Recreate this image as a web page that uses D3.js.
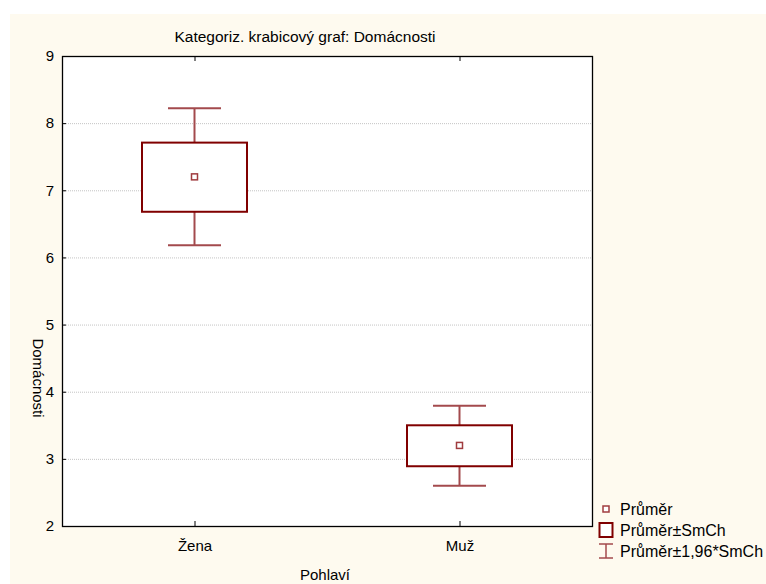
<!DOCTYPE html>
<html lang="cs">
<head>
    <meta charset="UTF-8">
    <title>Kategoriz. krabicový graf: Domácnosti</title>
    <style>
        body {
            margin: 0;
            background: #fff;
            font-family: "Liberation Sans", Arial, sans-serif;
        }
        .grid line {
            stroke: #c4c4c4;
            stroke-dasharray: 1, 1;
        }
        .tick-label {
            font-size: 15px;
            fill: #000;
        }
    </style>
</head>
<body>
    <svg id="chart" width="766" height="584"></svg>

    <script src="https://d3js.org/d3.v7.min.js"></script>
    <script>
        // data
        const categories = ["Žena", "Muž"];
        const means = [7.20, 3.20];
        const boxLow = [6.68, 2.89];     // mean - SE
        const boxHigh = [7.71, 3.50];    // mean + SE
        const whiskLow = [6.18, 2.60];   // mean - 1.96*SE
        const whiskHigh = [8.22, 3.79];  // mean + 1.96*SE
        const yTicks = [2, 3, 4, 5, 6, 7, 8, 9];
        const legendItems = ["Průměr", "Průměr±SmCh", "Průměr±1,96*SmCh"];

        const boxColor = "#800000";
        const whiskColor = "#a34a4d";

        const svg = d3.select("#chart");
        const width = +svg.attr("width");
        const height = +svg.attr("height");
        const margin = { top: 56, right: 174, bottom: 58, left: 62 };
        const plotW = width - margin.left - margin.right;
        const plotH = height - margin.top - margin.bottom;

        // cream background panel
        svg.append("rect")
            .attr("x", 10).attr("y", 14)
            .attr("width", width - 10).attr("height", height - 14)
            .attr("fill", "#fefaef");

        const g = svg.append("g")
            .attr("transform", `translate(${margin.left},${margin.top})`);

        const x = d3.scalePoint().domain(categories).range([0, plotW]).padding(0.5);
        const y = d3.scaleLinear().domain([2, 9]).range([plotH, 0]);

        g.append("rect")
            .attr("width", plotW).attr("height", plotH)
            .attr("fill", "#fff");

        // horizontal dotted grid
        g.append("g").attr("class", "grid")
            .selectAll("line")
            .data(yTicks.filter(d => d > 2 && d < 9))
            .join("line")
            .attr("x1", 0).attr("x2", plotW)
            .attr("y1", d => y(d) + 0.5).attr("y2", d => y(d) + 0.5);

        // y axis labels
        const yAxis = g.append("g")
            .call(d3.axisLeft(y).tickValues(yTicks).tickSize(0).tickPadding(8).tickFormat(d3.format("d")));
        yAxis.select(".domain").remove();
        yAxis.selectAll("text").attr("class", "tick-label")
            .attr("font-family", "Liberation Sans, Arial, sans-serif");

        // y ticks pointing inward
        g.append("g").selectAll("line")
            .data(yTicks)
            .join("line")
            .attr("x1", 0).attr("x2", 4)
            .attr("y1", d => y(d) + 0.5).attr("y2", d => y(d) + 0.5)
            .attr("stroke", "#000");

        // x axis labels
        const xAxis = g.append("g")
            .attr("transform", `translate(0,${plotH})`)
            .call(d3.axisBottom(x).tickSize(0).tickPadding(14));
        xAxis.select(".domain").remove();
        xAxis.selectAll("text").attr("class", "tick-label")
            .attr("font-family", "Liberation Sans, Arial, sans-serif");

        // category ticks top and bottom, pointing inward
        categories.forEach(c => {
            g.append("line")
                .attr("x1", x(c) + 0.5).attr("x2", x(c) + 0.5)
                .attr("y1", 0).attr("y2", 5).attr("stroke", "#000");
            g.append("line")
                .attr("x1", x(c) + 0.5).attr("x2", x(c) + 0.5)
                .attr("y1", plotH).attr("y2", plotH - 5).attr("stroke", "#000");
        });

        // plot frame
        g.append("rect")
            .attr("x", 0.5).attr("y", 0.5)
            .attr("width", plotW).attr("height", plotH)
            .attr("fill", "none")
            .attr("stroke", "#000")
            .attr("stroke-width", 1.3);

        const boxW = 105;
        const capW = 53;

        const groups = g.selectAll(".cat")
            .data(categories)
            .join("g")
            .attr("class", "cat");

        // whiskers
        groups.append("line")
            .attr("x1", d => x(d)).attr("x2", d => x(d))
            .attr("y1", (d, i) => y(whiskHigh[i])).attr("y2", (d, i) => y(boxHigh[i]))
            .attr("stroke", whiskColor).attr("stroke-width", 2);
        groups.append("line")
            .attr("x1", d => x(d)).attr("x2", d => x(d))
            .attr("y1", (d, i) => y(boxLow[i])).attr("y2", (d, i) => y(whiskLow[i]))
            .attr("stroke", whiskColor).attr("stroke-width", 2);
        groups.append("line")
            .attr("x1", d => x(d) - capW / 2).attr("x2", d => x(d) + capW / 2)
            .attr("y1", (d, i) => y(whiskHigh[i])).attr("y2", (d, i) => y(whiskHigh[i]))
            .attr("stroke", whiskColor).attr("stroke-width", 2);
        groups.append("line")
            .attr("x1", d => x(d) - capW / 2).attr("x2", d => x(d) + capW / 2)
            .attr("y1", (d, i) => y(whiskLow[i])).attr("y2", (d, i) => y(whiskLow[i]))
            .attr("stroke", whiskColor).attr("stroke-width", 2);

        // boxes
        groups.append("rect")
            .attr("x", d => x(d) - boxW / 2)
            .attr("y", (d, i) => y(boxHigh[i]))
            .attr("width", boxW)
            .attr("height", (d, i) => y(boxLow[i]) - y(boxHigh[i]))
            .attr("fill", "#fff")
            .attr("stroke", boxColor).attr("stroke-width", 2);

        // mean markers
        groups.append("rect")
            .attr("x", d => x(d) - 3)
            .attr("y", (d, i) => y(means[i]) - 3)
            .attr("width", 6).attr("height", 6)
            .attr("fill", "#fff")
            .attr("stroke", "#a03c3f").attr("stroke-width", 1.5);

        // title and axis titles
        svg.append("text")
            .attr("x", 305).attr("y", 42)
            .attr("text-anchor", "middle")
            .attr("font-size", "15.5px")
            .text("Kategoriz. krabicový graf: Domácnosti");

        svg.append("text")
            .attr("x", 325).attr("y", 580)
            .attr("text-anchor", "middle")
            .attr("font-size", "15px")
            .text("Pohlaví");

        svg.append("text")
            .attr("transform", "translate(33,378) rotate(90)")
            .attr("text-anchor", "middle")
            .attr("font-size", "15px")
            .text("Domácnosti");

        // legend
        const lx = 606, ly = [509, 530, 551];
        const leg = svg.append("g");
        leg.append("rect")
            .attr("x", lx - 3).attr("y", ly[0] - 3)
            .attr("width", 6).attr("height", 6)
            .attr("fill", "#fff").attr("stroke", "#a03c3f").attr("stroke-width", 1.5);
        leg.append("rect")
            .attr("x", lx - 6.5).attr("y", ly[1] - 7)
            .attr("width", 13).attr("height", 14)
            .attr("fill", "#fff").attr("stroke", boxColor).attr("stroke-width", 2);
        leg.append("line")
            .attr("x1", lx).attr("x2", lx)
            .attr("y1", ly[2] - 7).attr("y2", ly[2] + 7)
            .attr("stroke", whiskColor).attr("stroke-width", 1.5);
        leg.append("line")
            .attr("x1", lx - 7).attr("x2", lx + 7)
            .attr("y1", ly[2] - 7).attr("y2", ly[2] - 7)
            .attr("stroke", whiskColor).attr("stroke-width", 1.5);
        leg.append("line")
            .attr("x1", lx - 7).attr("x2", lx + 7)
            .attr("y1", ly[2] + 7).attr("y2", ly[2] + 7)
            .attr("stroke", whiskColor).attr("stroke-width", 1.5);
        leg.selectAll("text")
            .data(legendItems)
            .join("text")
            .attr("x", 620)
            .attr("y", (d, i) => ly[i])
            .attr("dy", "0.35em")
            .attr("font-size", "16px")
            .text(d => d);
    </script>
</body>
</html>
